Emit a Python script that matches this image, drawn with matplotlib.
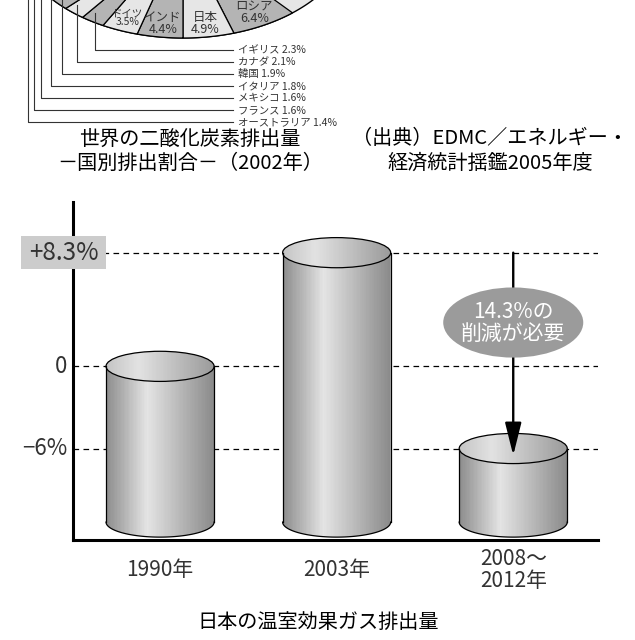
import matplotlib.pyplot as plt
import numpy as np
from matplotlib.patches import Polygon, Ellipse, Rectangle
from matplotlib.colors import LinearSegmentedColormap

plt.rcParams['font.family'] = ['Noto Sans CJK JP', 'DejaVu Sans']

# world CO2 emissions, share by country (2002) - only the bottom of the pie shows
countries = ['ロシア', '日本', 'インド', 'ドイツ', 'イギリス', 'カナダ', '韓国',
             'イタリア', 'メキシコ', 'フランス', 'オーストラリア']
shares = [6.4, 4.9, 4.4, 3.5, 2.3, 2.1, 1.9, 1.8, 1.6, 1.6, 1.4]
inside = ['ロシア', '日本', 'インド', 'ドイツ']  # labelled inside the slice

# Japan greenhouse gas emissions (change vs 1990)
periods = ['1990年', '2003年', '2008〜\n2012年']
change = [0, 8.3, -6]
ytick_labels = ['0', '+8.3%', '−6%']

pie_caption = '世界の二酸化炭素排出量\n－国別排出割合－（2002年）'
source = '（出典）EDMC／エネルギー・\n経済統計揺鑑2005年度'
bar_title = '日本の温室効果ガス排出量'

W, H = 635, 640
fig = plt.figure(figsize=(W / 100, H / 100), dpi=100)

# ---- pie part, drawn in pixel coordinates (tilted pie -> ellipse)
ov = fig.add_axes([0, 0, 1, 1])
ov.set_xlim(0, W)
ov.set_ylim(H, 0)
ov.axis('off')

cx, cy, rx, ry = 183, -66, 168, 104


def ell(t_deg, r=1.0):
    t = np.radians(t_deg)
    return cx + rx * r * np.sin(t), cy + ry * r * np.cos(t)


x, y = ell(np.linspace(0, 360, 400))
ov.add_patch(Polygon(np.column_stack([x, y]), closed=True, fc='#e6e6e6', ec='black', lw=1))

deg = np.array(shares) * 3.6
hi = deg[0] + deg[1]  # Japan / India boundary at the bottom of the pie
leader_y = 50
for k, (name, share, d) in enumerate(zip(countries, shares, deg)):
    lo = hi - d
    x, y = ell(np.linspace(lo, hi, 60))
    pts = np.vstack([[cx, cy], np.column_stack([x, y])])
    ov.add_patch(Polygon(pts, closed=True, fc=['#b4b4b4', '#e6e6e6'][k % 2],
                         ec='black', lw=0.9))
    mid = (lo + hi) / 2
    if name in inside:
        tx, ty = ell(mid, 0.87)
        fs = 7.5 if name == 'ドイツ' else 9
        ov.text(tx, ty, f'{name}\n{share}%', ha='center', va='center', fontsize=fs,
                color='#333333', linespacing=0.85)
    else:
        lx = ell(mid, 0.97)[0]
        ly = ell(mid, 0.9)[1]
        ov.plot([lx, lx, 233], [ly, leader_y, leader_y], color='#333333', lw=0.8)
        ov.text(238, leader_y, f'{name} {share}%', ha='left', va='center',
                fontsize=7.5, color='#333333')
        leader_y += 12
    hi = lo

fig.text(190 / W, 1 - 151 / H, pie_caption, ha='center', va='center', fontsize=14.5,
         linespacing=1.2)
fig.text(490 / W, 1 - 151 / H, source, ha='center', va='center', fontsize=14.5,
         linespacing=1.2)

# ---- cylinder bar chart
ax = fig.add_axes([73 / W, 1 - 540 / H, (598 - 73) / W, (540 - 202) / H])
ax.patch.set_visible(False)
ax.set_xlim(-0.493, 2.48)
ax.set_ylim(-12.68, 12.0)
for s in ['top', 'right']:
    ax.spines[s].set_visible(False)
for s in ['left', 'bottom']:
    ax.spines[s].set_linewidth(2.2)

for v in change:
    ax.axhline(v, color='black', lw=0.9, ls=(0, (4.5, 3.5)), zorder=1)

body_cmap = LinearSegmentedColormap.from_list(
    'body', [(0, '#8c8c8c'), (0.38, '#e4e4e4'), (1, '#8a8a8a')])
cap_cmap = LinearSegmentedColormap.from_list(
    'cap', [(0, '#c4c4c4'), (0.3, '#e2e2e2'), (1, '#9a9a9a')])

base = -11.37
hw, eh = 0.306, 1.1
N = 80
edges = np.linspace(-hw, hw, N + 1)[:-1]
ws = 2 * hw / N
u = (edges + ws / 2 + hw) / (2 * hw)
arc = np.radians(np.linspace(180, 360, 80))

for i, v in enumerate(change):
    sx = i + hw * np.cos(arc)
    sy = base + eh * np.sin(arc)
    sil = Polygon(np.vstack([[i - hw, v], np.column_stack([sx, sy]), [i + hw, v]]),
                  closed=True, fc='none', ec='none')
    ax.add_patch(sil)
    strips = ax.bar(i + edges, v - (base - eh), bottom=base - eh, width=ws * 1.05,
                    align='edge', color=body_cmap(u), lw=0, zorder=2)
    for p in strips:
        p.set_clip_path(sil)
        p.set_antialiased(False)

    cap = Ellipse((i, v), 2 * hw, 2 * eh, fc='none', ec='black', lw=0.9, zorder=4)
    ax.add_patch(cap)
    caps = ax.bar(i + edges, 2 * eh, bottom=v - eh, width=ws * 1.05, align='edge',
                  color=cap_cmap(u), lw=0, zorder=3)
    for p in caps:
        p.set_clip_path(cap)
        p.set_antialiased(False)

    ax.plot([i - hw, i - hw], [v, base], color='black', lw=0.9, zorder=4)
    ax.plot([i + hw, i + hw], [v, base], color='black', lw=0.9, zorder=4)
    ax.plot(sx, sy, color='black', lw=0.9, zorder=4)

# reduction arrow from 2003 level down to the target
ax.annotate('', xy=(2, change[2] - 0.5), xytext=(2, change[1]),
            arrowprops=dict(arrowstyle='-|>,head_length=1.0,head_width=0.25',
                            mutation_scale=20, lw=1.7, color='black',
                            shrinkA=0, shrinkB=0), zorder=5)
ax.add_patch(Ellipse((2, 3.2), 0.793, 5.12, fc='#9b9b9b', ec='none', zorder=6))
ax.text(2, 3.2, f'{change[1] - change[2]:.1f}%の\n削減が必要', ha='center', va='center',
        color='white', fontsize=15, linespacing=1.0, zorder=7)

# y labels
trans = ax.get_yaxis_transform()
for v, lab in zip(change, ytick_labels):
    if lab.startswith('+'):
        ax.add_patch(Rectangle((-0.099, v - 1.2), 0.162, 2.41, transform=trans,
                               fc='#cccccc', ec='none', zorder=9, clip_on=False))
        ax.text(-0.018, v, lab, transform=trans, ha='center', va='center',
                fontsize=17.5, color='#333333', zorder=10, clip_on=False)
    else:
        ax.text(-0.0115, v, lab, transform=trans, ha='right', va='center',
                fontsize=16, color='#333333', clip_on=False)
ax.set_yticks([])

ax.set_xticks(range(len(periods)))
ax.set_xticklabels(periods, fontsize=15, color='#333333', linespacing=0.95)
ax.tick_params(axis='x', length=0, pad=21.6)
for t in ax.get_xticklabels():
    t.set_va('center')

fig.text(318 / W, 1 - 623 / H, bar_title, ha='center', va='center', fontsize=14.5)

fig.savefig('out.png', dpi=100)
